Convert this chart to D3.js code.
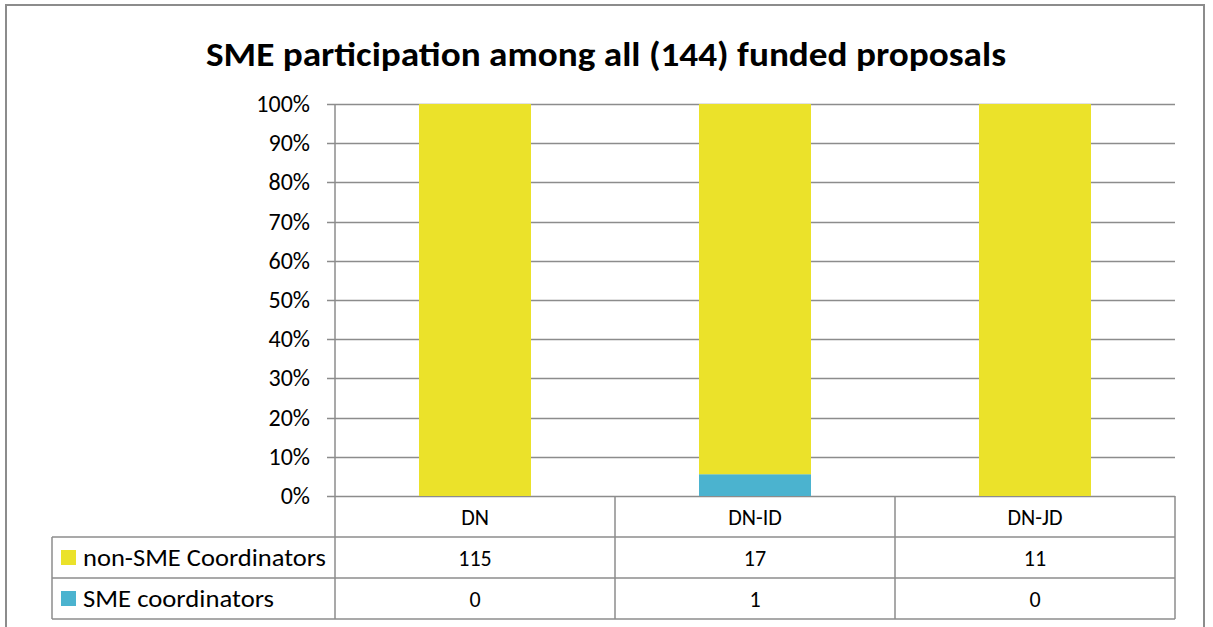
<!DOCTYPE html>
<html>
<meta charset="utf-8">
<script src="https://d3js.org/d3.v7.min.js"></script>
<style>
  body { margin: 0; background: #fff; }
  text { font-family: Carlito, Calibri, "Open Sans", sans-serif; fill: #000; }
</style>
<body>
<div id="chart"></div>
<script>
// data
var categories = ["DN", "DN-ID", "DN-JD"];
var seriesNames = ["non-SME Coordinators", "SME coordinators"];
var nonSME = [115, 17, 11];
var sme = [0, 1, 0];
var tickLabels = ["0%", "10%", "20%", "30%", "40%", "50%", "60%", "70%", "80%", "90%", "100%"];
var colors = ["#ebe22a", "#4bb3cf"];

var W = 1213, H = 627;
var plotL = 335, plotR = 1175, plotT = 104, plotB = 496;
var rowH = 41;

var svg = d3.select("#chart").append("svg")
    .attr("width", W)
    .attr("height", H);

// outer frame
svg.append("rect")
    .attr("x", 6).attr("y", 5)
    .attr("width", 1198).attr("height", 640)
    .attr("fill", "none")
    .attr("stroke", "#8c8c8c")
    .attr("stroke-width", 2);

svg.append("text")
    .attr("x", 606).attr("y", 66)
    .attr("text-anchor", "middle")
    .style("font-size", "35px")
    .style("font-weight", "bold")
    .attr("textLength", 800)
    .attr("lengthAdjust", "spacingAndGlyphs")
    .text("SME participation among all (144) funded proposals");

var x = d3.scaleBand().domain(categories).range([plotL, plotR]).paddingInner(0.6).paddingOuter(0.3);
var xCell = d3.scaleBand().domain(categories).range([plotL, plotR]);
var y = d3.scaleLinear().domain([0, 1]).range([plotB, plotT]);

// gridlines + ticks
var ticks = d3.range(0, 1.0001, 0.1);
svg.append("g").selectAll("line")
    .data(ticks)
  .enter().append("line")
    .attr("x1", plotL - 8).attr("x2", plotR)
    .attr("y1", function(d) { return Math.round(y(d)) + 0.5; })
    .attr("y2", function(d) { return Math.round(y(d)) + 0.5; })
    .attr("stroke", "#8c8c8c")
    .attr("stroke-width", 1.5);

svg.append("g").selectAll("text")
    .data(ticks)
  .enter().append("text")
    .attr("x", 310)
    .attr("y", function(d) { return y(d) + 8; })
    .attr("text-anchor", "end")
    .style("font-size", "24px")
    .text(function(d, i) { return tickLabels[i]; });

// stacked 100% bars
var rows = categories.map(function(c, i) {
  return { cat: c, a: nonSME[i], b: sme[i] };
});
var stack = d3.stack().keys(["b", "a"]).offset(d3.stackOffsetExpand);
var layers = stack(rows);

svg.append("g").selectAll("g")
    .data(layers)
  .enter().append("g")
    .attr("fill", function(d) { return d.key === "a" ? colors[0] : colors[1]; })
  .selectAll("rect")
    .data(function(d) { return d; })
  .enter().append("rect")
    .attr("x", function(d) { return x(d.data.cat); })
    .attr("width", x.bandwidth())
    .attr("y", function(d) { return y(d[1]); })
    .attr("height", function(d) { return y(d[0]) - y(d[1]); });

// data table
var tbl = svg.append("g").attr("stroke", "#8c8c8c").attr("stroke-width", 1.5).attr("fill", "none");
[1, 2, 3].forEach(function(r) {
  tbl.append("line")
      .attr("x1", 52).attr("x2", plotR)
      .attr("y1", plotB + r * rowH).attr("y2", plotB + r * rowH);
});
tbl.append("line").attr("x1", 52).attr("x2", 52)
    .attr("y1", plotB + rowH).attr("y2", plotB + 3 * rowH);
tbl.append("line").attr("x1", plotL).attr("x2", plotL)
    .attr("y1", plotT).attr("y2", plotB + 3 * rowH);
categories.forEach(function(c) {
  tbl.append("line")
      .attr("x1", xCell(c) + xCell.bandwidth()).attr("x2", xCell(c) + xCell.bandwidth())
      .attr("y1", plotB).attr("y2", plotB + 3 * rowH);
});

svg.append("g").selectAll("text")
    .data(categories)
  .enter().append("text")
    .attr("x", function(d) { return xCell(d) + xCell.bandwidth() / 2; })
    .attr("y", plotB + 29)
    .attr("text-anchor", "middle")
    .style("font-size", "22px")
    .text(function(d) { return d; });

[nonSME, sme].forEach(function(vals, r) {
  var yy = plotB + (r + 1) * rowH + 29;
  svg.append("rect")
      .attr("x", 61).attr("y", yy - 16)
      .attr("width", 15).attr("height", 15)
      .attr("fill", colors[r]);
  svg.append("text")
      .attr("x", 83).attr("y", yy)
      .style("font-size", "24px")
      .attr("textLength", seriesNames[r].length > 17 ? 243 : 191)
      .attr("lengthAdjust", "spacingAndGlyphs")
      .text(seriesNames[r]);
  svg.append("g").selectAll("text")
      .data(vals)
    .enter().append("text")
      .attr("x", function(d, i) { return xCell(categories[i]) + xCell.bandwidth() / 2; })
      .attr("y", yy)
      .attr("text-anchor", "middle")
      .style("font-size", "22px")
      .text(function(d) { return d; });
});
</script>
</body>
</html>
